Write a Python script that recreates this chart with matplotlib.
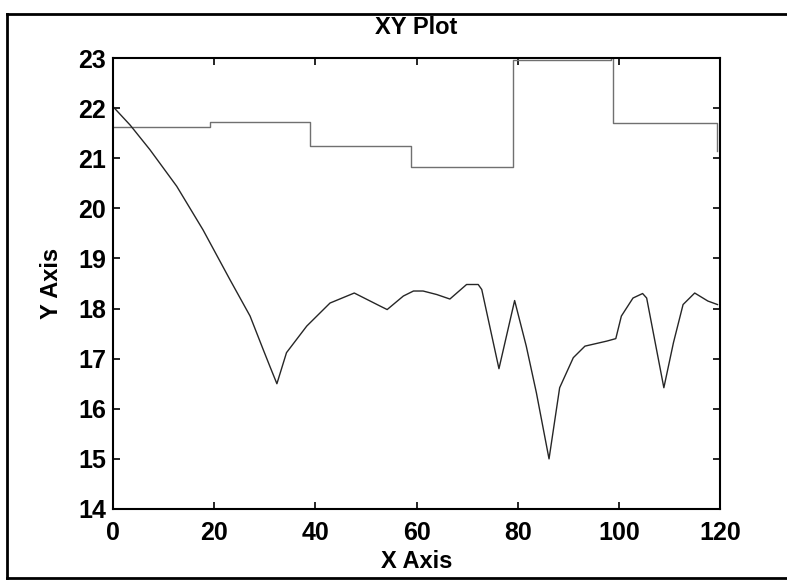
import matplotlib
matplotlib.use("Agg")
import matplotlib.pyplot as plt
from matplotlib.lines import Line2D

# Lower curve
curve_x = [0, 3.4, 7.3, 12.6, 17.8, 23.1, 27.1, 29.7, 31, 32.4, 34.3, 38.3, 42.9, 47.7,
           52.8, 54.2, 57.4, 59.4, 61.3, 64, 66.6, 69.9, 72.2, 72.9, 76.3, 79.4, 81.7,
           83.7, 86.2, 88.3, 91, 93.3, 97.6, 99.4, 100.5, 102.8, 104.7, 105.5, 108.9,
           110.8, 112.7, 115, 117.6, 119.5]
curve_y = [22.03, 21.66, 21.17, 20.44, 19.57, 18.58, 17.85, 17.18, 16.85, 16.5, 17.12, 17.65,
           18.11, 18.31, 18.05, 17.98, 18.25, 18.35, 18.35, 18.28, 18.19, 18.48, 18.48, 18.38,
           16.8, 18.16, 17.25, 16.32, 15.0, 16.42, 17.02, 17.25, 17.35, 17.4, 17.85, 18.21,
           18.3, 18.21, 16.42, 17.32, 18.08, 18.31, 18.15, 18.08]

# Upper step line
step_x = [0, 19.2, 19.2, 39, 39, 59, 59, 79, 79, 98.5, 98.5, 98.8, 98.8, 119.5, 119.5]
step_y = [21.62, 21.62, 21.72, 21.72, 21.25, 21.25, 20.83, 20.83, 22.96, 22.96, 23.05, 23.05, 21.7, 21.7, 21.15]

x_ticks = [0, 20, 40, 60, 80, 100, 120]
y_ticks = [14, 15, 16, 17, 18, 19, 20, 21, 22, 23]

plt.rcParams['font.family'] = ['Liberation Sans', 'DejaVu Sans']

fig = plt.figure(figsize=(7.87, 5.8), dpi=100)
ax = fig.add_axes([113/787, 1-509/580, (720-113)/787, (509-58)/580])

ax.plot(step_x, step_y, color='#707070', lw=1.0)
ax.plot(curve_x, curve_y, color='#262626', lw=1.0)

ax.set_xlim(0, 120)
ax.set_ylim(14, 23)
ax.set_xticks(x_ticks)
ax.set_yticks(y_ticks)
ax.tick_params(direction='in', length=5, width=1.2, top=True, right=True,
               labelsize=18, pad=5)
ax.tick_params(axis='x', pad=9)
for lab in ax.get_xticklabels() + ax.get_yticklabels():
    lab.set_fontweight('bold')
for s in ax.spines.values():
    s.set_linewidth(1.5)
    s.set_color('black')

ax.set_title('XY Plot', fontsize=17, fontweight='bold', pad=17)
ax.set_xlabel('X Axis', fontsize=17, fontweight='bold', labelpad=3)
ax.set_ylabel('Y Axis', fontsize=17, fontweight='bold', labelpad=11)

# outer frame (left, top, bottom)
W, H = 787, 580
fig.add_artist(Line2D([7/W, 7/W], [1-14/H, 1-578/H], transform=fig.transFigure, color='black', lw=2))
fig.add_artist(Line2D([7/W, 1], [1-14/H, 1-14/H], transform=fig.transFigure, color='black', lw=2))
fig.add_artist(Line2D([7/W, 1], [1-578/H, 1-578/H], transform=fig.transFigure, color='black', lw=2))

fig.savefig('out.png', dpi=100)
